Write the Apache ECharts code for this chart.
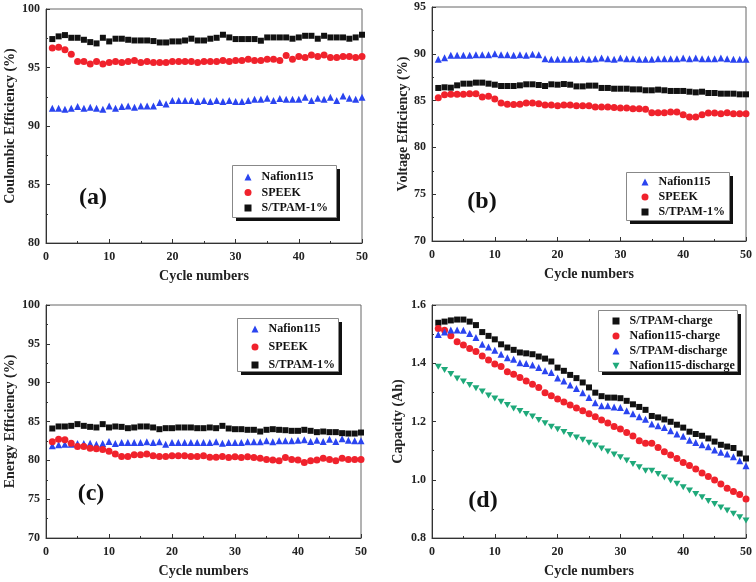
<!DOCTYPE html>
<html><head><meta charset="utf-8">
<script src="https://cdn.jsdelivr.net/npm/echarts@6/dist/echarts.min.js"></script>
<style>html,body{margin:0;padding:0;background:#fff}#c{width:756px;height:582px}</style>
</head><body><div id="c"></div>
<script>
const cycles = [1,2,3,4,5,6,7,8,9,10,11,12,13,14,15,16,17,18,19,20,21,22,23,24,25,26,27,28,29,30,31,32,33,34,35,36,37,38,39,40,41,42,43,44,45,46,47,48,49,50];
const xTicks = [0,10,20,30,40,50];

// (a) Coulombic efficiency
const ceNafion = [91.51,91.51,91.43,91.51,91.66,91.51,91.6,91.51,91.43,91.71,91.51,91.66,91.71,91.6,91.71,91.71,91.71,92.0,91.89,92.17,92.17,92.17,92.17,92.09,92.17,92.09,92.17,92.09,92.17,92.09,92.09,92.17,92.29,92.29,92.37,92.17,92.34,92.29,92.29,92.29,92.46,92.17,92.37,92.29,92.46,92.17,92.57,92.37,92.29,92.46];
const ceSpeek = [96.66,96.74,96.51,96.14,95.51,95.51,95.29,95.51,95.29,95.43,95.51,95.43,95.51,95.6,95.43,95.51,95.43,95.43,95.43,95.51,95.51,95.51,95.51,95.43,95.51,95.51,95.51,95.6,95.51,95.6,95.6,95.71,95.6,95.6,95.71,95.71,95.6,96.03,95.71,95.94,95.86,96.06,95.94,96.06,95.86,95.86,95.94,95.94,95.86,95.94];
const ceStpam = [97.43,97.66,97.77,97.54,97.54,97.37,97.17,97.06,97.54,97.23,97.46,97.46,97.37,97.31,97.31,97.31,97.26,97.14,97.14,97.23,97.23,97.31,97.46,97.31,97.31,97.46,97.54,97.8,97.57,97.43,97.43,97.43,97.43,97.29,97.57,97.57,97.57,97.57,97.46,97.57,97.71,97.71,97.46,97.71,97.57,97.57,97.57,97.46,97.57,97.8];

// (b) Voltage efficiency
const veNafion = [89.41,89.59,89.84,89.84,89.84,89.84,89.91,89.91,89.91,90.0,89.91,89.91,89.84,89.91,89.84,89.94,89.91,89.48,89.41,89.41,89.41,89.41,89.41,89.48,89.41,89.48,89.55,89.48,89.41,89.55,89.48,89.48,89.41,89.41,89.41,89.48,89.48,89.48,89.48,89.55,89.48,89.55,89.48,89.48,89.48,89.55,89.48,89.41,89.41,89.41];
const veSpeek = [85.31,85.63,85.67,85.67,85.67,85.74,85.74,85.38,85.46,85.17,84.74,84.6,84.57,84.6,84.74,84.74,84.67,84.53,84.53,84.46,84.53,84.53,84.46,84.46,84.46,84.32,84.32,84.32,84.25,84.21,84.21,84.14,84.14,84.07,83.71,83.71,83.71,83.78,83.78,83.5,83.25,83.25,83.5,83.68,83.68,83.6,83.71,83.6,83.6,83.6];
const veStpam = [86.35,86.42,86.38,86.63,86.81,86.81,86.92,86.92,86.81,86.7,86.56,86.56,86.56,86.63,86.74,86.74,86.67,86.56,86.74,86.7,86.77,86.7,86.52,86.52,86.6,86.6,86.35,86.35,86.27,86.27,86.27,86.2,86.2,86.1,86.1,86.17,86.1,86.03,86.03,86.03,85.95,85.88,85.95,85.81,85.81,85.74,85.74,85.74,85.67,85.67];

// (c) Energy efficiency
const eeNafion = [81.87,82.0,82.08,82.08,82.17,82.17,82.21,82.08,82.17,82.43,82.17,82.3,82.3,82.3,82.3,82.38,82.3,82.38,82.08,82.3,82.3,82.3,82.3,82.3,82.3,82.3,82.38,82.21,82.3,82.3,82.3,82.38,82.38,82.38,82.51,82.38,82.51,82.51,82.51,82.6,82.64,82.43,82.6,82.43,82.73,82.43,82.77,82.6,82.51,82.51];
const eeSpeek = [82.38,82.73,82.64,82.21,81.78,81.78,81.57,81.48,81.4,81.18,80.8,80.5,80.5,80.71,80.71,80.8,80.58,80.5,80.5,80.58,80.58,80.58,80.5,80.5,80.58,80.41,80.41,80.5,80.37,80.45,80.37,80.45,80.37,80.28,80.11,80.03,79.94,80.37,80.11,80.03,79.73,79.94,80.03,80.28,80.11,79.94,80.28,80.11,80.11,80.11];
const eeStpam = [84.1,84.36,84.36,84.44,84.66,84.44,84.31,84.23,84.66,84.23,84.36,84.31,84.14,84.23,84.36,84.36,84.23,84.01,84.14,84.14,84.23,84.23,84.23,84.14,84.14,84.23,84.14,84.44,84.1,84.01,84.01,83.93,83.93,83.71,83.93,84.01,83.93,83.88,83.8,83.8,83.93,83.8,83.63,83.71,83.63,83.63,83.5,83.45,83.45,83.58];

// (d) Capacity
const capStpamCharge = [1.539,1.543,1.547,1.55,1.55,1.543,1.531,1.507,1.494,1.482,1.465,1.454,1.446,1.437,1.434,1.431,1.423,1.416,1.406,1.385,1.374,1.36,1.349,1.334,1.317,1.299,1.287,1.282,1.282,1.28,1.271,1.259,1.25,1.24,1.219,1.214,1.207,1.199,1.189,1.179,1.165,1.157,1.151,1.142,1.131,1.12,1.114,1.109,1.09,1.073];
const capNafionCharge = [1.519,1.513,1.494,1.474,1.463,1.451,1.44,1.425,1.411,1.397,1.389,1.371,1.362,1.351,1.339,1.328,1.317,1.299,1.288,1.277,1.267,1.257,1.246,1.237,1.227,1.216,1.205,1.195,1.183,1.174,1.162,1.15,1.134,1.125,1.125,1.111,1.096,1.085,1.073,1.059,1.049,1.037,1.023,1.011,0.999,0.985,0.971,0.96,0.949,0.934];
const capStpamDischarge = [1.499,1.507,1.514,1.514,1.513,1.502,1.488,1.465,1.456,1.445,1.431,1.419,1.414,1.402,1.399,1.394,1.385,1.374,1.368,1.349,1.339,1.325,1.313,1.299,1.282,1.264,1.254,1.254,1.25,1.248,1.237,1.227,1.216,1.208,1.191,1.185,1.179,1.168,1.157,1.149,1.136,1.128,1.12,1.113,1.102,1.094,1.088,1.079,1.065,1.048];
const capNafionDischarge = [1.388,1.377,1.363,1.348,1.337,1.325,1.314,1.303,1.289,1.279,1.268,1.257,1.245,1.236,1.226,1.217,1.205,1.194,1.182,1.173,1.164,1.154,1.145,1.137,1.127,1.118,1.107,1.097,1.087,1.077,1.066,1.054,1.043,1.031,1.031,1.02,1.008,0.997,0.986,0.974,0.963,0.951,0.94,0.927,0.917,0.905,0.894,0.883,0.871,0.86];

const FONT = 'Liberation Serif';
const C_BLUE = '#2a44f0', C_RED = '#f0222c', C_BLACK = '#111111', C_GREEN = '#1fa97a';
const DOWN_TRI = 'path://M0,0L10,0L5,9Z';

const grids = [
  {left:46, top:9, width:316, height:234},
  {left:432, top:7, width:314, height:234},
  {left:46, top:305, width:315, height:233},
  {left:432, top:305, width:314, height:233}
];
const yCfg = [
  {min:80, max:100, interval:5, name:'Coulombic Efficiency (%)', gap:29, dec:0},
  {min:70, max:95, interval:5, name:'Voltage Efficiency (%)', gap:22, dec:0},
  {min:70, max:100, interval:5, name:'Energy Efficiency (%)', gap:29, dec:0},
  {min:0.8, max:1.6, interval:0.2, name:'Capacity (Ah)', gap:27, dec:1}
];
const axisLbl = {fontFamily:FONT, fontWeight:'bold', fontSize:12, color:'#222'};
const nameStyle = {fontFamily:FONT, fontWeight:'bold', fontSize:14, color:'#222'};

const xAxes = grids.map((g,i)=>({
  type:'value', gridIndex:i, min:xTicks[0], max:xTicks[xTicks.length-1], interval:10,
  name:'Cycle numbers', nameLocation:'middle', nameGap:26, nameTextStyle:nameStyle,
  axisLine:{show:true, onZero:false, lineStyle:{color:'#333', width:1}},
  axisTick:{show:true, inside:true, length:4, lineStyle:{color:'#333'}},
  minorTick:{show:true, splitNumber:2, length:2, lineStyle:{color:'#333'}},
  axisLabel:Object.assign({margin:8}, axisLbl),
  splitLine:{show:false}
}));
const yAxes = yCfg.map((c,i)=>({
  type:'value', gridIndex:i, min:c.min, max:c.max, interval:c.interval,
  name:c.name, nameLocation:'middle', nameGap:c.gap, nameTextStyle:nameStyle,
  axisLine:{show:true, onZero:false, lineStyle:{color:'#333', width:1}},
  axisTick:{show:true, inside:true, length:4, lineStyle:{color:'#333'}},
  minorTick:{show:true, splitNumber:2, length:2, lineStyle:{color:'#333'}},
  axisLabel:Object.assign({margin:6, formatter:v=>v.toFixed(c.dec)}, axisLbl),
  splitLine:{show:false}
}));

function pts(arr){ return cycles.map((c,i)=>[c, arr[i]]); }
function sc(name, arr, gi, sym, color, size){
  return {type:'scatter', name:name, xAxisIndex:gi, yAxisIndex:gi, data:pts(arr),
    symbol:sym, symbolSize:size,
    itemStyle:{color:color, opacity:1}, emphasis:{disabled:true}, z:3};
}
const series = [
  sc('Nafion115', ceNafion, 0, 'triangle', C_BLUE, 7),
  sc('SPEEK', ceSpeek, 0, 'circle', C_RED, 7),
  sc('S/TPAM-1%', ceStpam, 0, 'rect', C_BLACK, 6),
  sc('Nafion115', veNafion, 1, 'triangle', C_BLUE, 7),
  sc('SPEEK', veSpeek, 1, 'circle', C_RED, 7),
  sc('S/TPAM-1%', veStpam, 1, 'rect', C_BLACK, 6),
  sc('Nafion115', eeNafion, 2, 'triangle', C_BLUE, 7),
  sc('SPEEK', eeSpeek, 2, 'circle', C_RED, 7),
  sc('S/TPAM-1%', eeStpam, 2, 'rect', C_BLACK, 6),
  sc('S/TPAM-charge', capStpamCharge, 3, 'rect', C_BLACK, 6),
  sc('Nafion115-charge', capNafionCharge, 3, 'circle', C_RED, 7),
  sc('S/TPAM-discharge', capStpamDischarge, 3, 'triangle', C_BLUE, 7),
  sc('Nafion115-discharge', capNafionDischarge, 3, DOWN_TRI, C_GREEN, [7,6])
];

function legend(names, left, top, gap){
  return {
    show:true, orient:'vertical', left:left, top:top, itemWidth:7, itemHeight:7, itemGap:gap,
    padding:0, backgroundColor:'transparent', borderWidth:0, z:5,
    selectedMode:false, data:names,
    textStyle:{fontFamily:FONT, fontWeight:'bold', fontSize:12, color:'#111', lineHeight:12, padding:[0,0,0,5]}
  };
}
const L3 = ['Nafion115','SPEEK','S/TPAM-1%'];
const L4 = ['S/TPAM-charge','Nafion115-charge','S/TPAM-discharge',{name:'Nafion115-discharge', icon:DOWN_TRI}];

const panelLabel = (t,x,y)=>({type:'text', x:x, y:y, z:10,
  style:{text:t, fontFamily:FONT, fontWeight:'bold', fontSize:24, fill:'#111', textAlign:'center', textVerticalAlign:'middle'}});
// legend frame with drop shadow
const legendBox = (x,y,w,h)=>[
  {type:'rect', z:1, shape:{x:x+3.5, y:y+3.5, width:w, height:h}, style:{fill:'#111'}},
  {type:'rect', z:2, shape:{x:x, y:y, width:w, height:h}, style:{fill:'#fff', stroke:'#888', lineWidth:1}}
];

const chart = echarts.init(document.getElementById('c'), null, {renderer:'canvas'});
chart.setOption({
  animation:false,
  backgroundColor:'#fff',
  grid: grids.map(g=>Object.assign({show:true, borderColor:'#666', borderWidth:1, backgroundColor:'transparent'}, g)),
  xAxis:xAxes, yAxis:yAxes,
  legend:[
    legend(L3, 244.5, 171, 3.5),
    legend(L3, 641.5, 176, 3),
    legend(L3, 251.5, 323, 6),
    legend(L4, 612.5, 315, 3)
  ],
  series:series,
  graphic:[].concat(
    legendBox(232.5,165.5,104,52),
    legendBox(626.5,172.5,103,48),
    legendBox(237.5,318.5,101,53),
    legendBox(598.5,310.5,139,61),
    [panelLabel('(a)',93,198), panelLabel('(b)',482,202), panelLabel('(c)',91,494), panelLabel('(d)',483,501)]
  )
});
</script></body></html>
